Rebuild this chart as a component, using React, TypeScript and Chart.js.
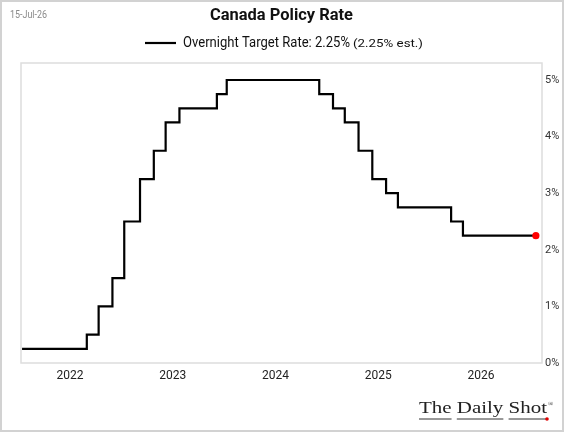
import React, { useEffect, useRef } from "react";
import { Chart, registerables } from "chart.js";

Chart.register(...registerables);

const dates = [
  "2021-07-15", "2022-03-02", "2022-04-13", "2022-06-01", "2022-07-13",
  "2022-09-07", "2022-10-26", "2022-12-07", "2023-01-25", "2023-06-07",
  "2023-07-12", "2024-06-05", "2024-07-24", "2024-09-04", "2024-10-23",
  "2024-12-11", "2025-01-29", "2025-03-12", "2025-09-17", "2025-10-29",
  "2026-07-15",
];
const rates = [
  0.25, 0.5, 1.0, 1.5, 2.5,
  3.25, 3.75, 4.25, 4.5, 4.75,
  5.0, 4.75, 4.5, 4.25, 3.75,
  3.25, 3.0, 2.75, 2.5, 2.25,
  2.25,
];
const xTickValues = [2022, 2023, 2024, 2025, 2026];
const xTickLabels = ["2022", "2023", "2024", "2025", "2026"];
const yTickValues = [0, 1, 2, 3, 4, 5];

const FONT = "Roboto, 'Noto Sans', sans-serif";
const SERIF = "'Liberation Serif', 'DejaVu Serif', serif";

function toYear(s: string): number {
  const [y, m, d] = s.split("-").map(Number);
  const start = Date.UTC(y, 0, 1);
  const end = Date.UTC(y + 1, 0, 1);
  return y + (Date.UTC(y, m - 1, d) - start) / (end - start);
}

// draws text starting at x, horizontally scaled to occupy targetW
function fitText(ctx: CanvasRenderingContext2D, text: string, x: number, y: number, font: string, targetW: number) {
  ctx.font = font;
  const w = ctx.measureText(text).width;
  const sx = targetW / w;
  ctx.save();
  ctx.translate(x, y);
  ctx.scale(sx, 1);
  ctx.textAlign = "left";
  ctx.fillText(text, 0, 0);
  ctx.restore();
  return sx;
}

const decor = {
  id: "decor",
  beforeDraw(chart: any) {
    const { ctx, width, height } = chart;
    ctx.save();
    ctx.fillStyle = "#fff";
    ctx.fillRect(0, 0, width, height);
    ctx.strokeStyle = "#d2d2d2";
    ctx.lineWidth = 2;
    ctx.strokeRect(1, 1, width - 2, height - 2);
    ctx.restore();
  },
  beforeDatasetsDraw(chart: any) {
    const { ctx, chartArea: a } = chart;
    ctx.save();
    ctx.strokeStyle = "#dddddd";
    ctx.lineWidth = 1.5;
    ctx.strokeRect(a.left, a.top, a.right - a.left, a.bottom - a.top);
    ctx.restore();
  },
  afterDraw(chart: any) {
    const { ctx } = chart;
    ctx.save();
    ctx.textBaseline = "middle";
    // date
    ctx.fillStyle = "#8a8a8a";
    fitText(ctx, "15-Jul-26", 10, 15.5, `10px ${FONT}`, 37);
    // title
    ctx.fillStyle = "#111";
    fitText(ctx, "Canada Policy Rate", 210, 16, `bold 17px ${FONT}`, 143);
    // legend
    ctx.strokeStyle = "#000";
    ctx.lineWidth = 2.2;
    ctx.beginPath();
    ctx.moveTo(145, 43);
    ctx.lineTo(176, 43);
    ctx.stroke();
    ctx.fillStyle = "#111";
    fitText(ctx, "Overnight Target Rate: 2.25%", 183, 43, `15px ${FONT}`, 167);
    fitText(ctx, "(2.25% est.)", 353, 44, `11.5px ${FONT}`, 70);
    // logo
    ctx.textBaseline = "alphabetic";
    ctx.fillStyle = "#222";
    ctx.strokeStyle = "#333";
    ctx.lineWidth = 1;
    const base = 413;
    const font = `17px ${SERIF}`;
    ctx.font = font;
    const full = "The Daily Shot";
    const sx = fitText(ctx, full, 419, base, font, 128);
    ctx.font = font;
    const words = ["The", "Daily", "Shot"];
    let offset = 0;
    words.forEach((wd) => {
      const ww = ctx.measureText(wd).width;
      ctx.beginPath();
      ctx.moveTo(419 + offset * sx, base + 6);
      ctx.lineTo(419 + (offset + ww) * sx, base + 6);
      ctx.stroke();
      offset += ww + ctx.measureText(" ").width;
    });
    ctx.font = `7px ${SERIF}`;
    ctx.fillText("®", 548, base - 7);
    ctx.fillStyle = "#e00000";
    ctx.beginPath();
    ctx.arc(547, base + 6, 1.8, 0, Math.PI * 2);
    ctx.fill();
    ctx.restore();
  },
};

export default function App() {
  const ref = useRef<HTMLCanvasElement>(null);
  useEffect(() => {
    document.body.style.margin = "0";
    const last = dates.length - 1;
    const chart = new Chart(ref.current as HTMLCanvasElement, {
      type: "line",
      data: {
        datasets: [
          {
            label: "Overnight Target Rate",
            data: dates.map((d, i) => ({ x: toYear(d), y: rates[i] })),
            borderColor: "#000",
            borderWidth: 2.2,
            stepped: true,
            pointRadius: (c: any) => (c.dataIndex === last ? 3.6 : 0),
            pointBackgroundColor: "#ff0000",
            pointBorderWidth: 0,
            pointHoverRadius: 0,
          } as any,
        ],
      },
      options: {
        responsive: false,
        animation: false,
        devicePixelRatio: 1,
        layout: { padding: { left: 21, top: 63, right: 0, bottom: 0 } },
        plugins: {
          legend: { display: false },
          title: { display: false },
          tooltip: { enabled: false },
        },
        scales: {
          x: {
            type: "linear",
            min: 2021.524,
            max: 2026.594,
            grid: { display: false, drawTicks: false },
            border: { display: false },
            afterBuildTicks: (s: any) => {
              s.ticks = xTickValues.map((v) => ({ value: v }));
            },
            afterFit: (s: any) => {
              s.height = 69;
            },
            ticks: {
              autoSkip: false,
              maxRotation: 0,
              padding: 6,
              color: "#222",
              font: { size: 12, family: FONT },
              callback: (_v: any, i: number) => xTickLabels[i],
            },
          },
          y: {
            position: "right",
            min: 0,
            max: 5.3,
            grid: { display: false, drawTicks: false },
            border: { display: false },
            afterBuildTicks: (s: any) => {
              s.ticks = yTickValues.map((v) => ({ value: v }));
            },
            afterFit: (s: any) => {
              s.width = 22;
            },
            ticks: {
              padding: 3,
              color: "#333",
              font: { size: 11, family: FONT },
              callback: (v: any) => `${v}%`,
            },
          },
        },
      },
      plugins: [decor],
    });
    return () => chart.destroy();
  }, []);
  return (
    <div style={{ position: "absolute", left: 0, top: 0, width: 564, height: 432 }}>
      <canvas ref={ref} width={564} height={432} />
    </div>
  );
}
